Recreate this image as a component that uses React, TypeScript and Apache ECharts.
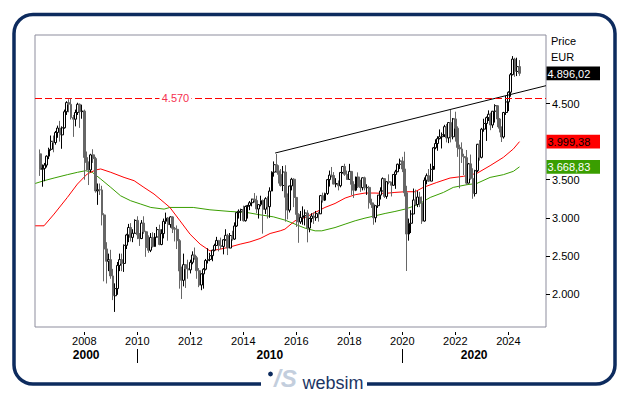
import React, { useEffect, useRef } from 'react';
import * as echarts from 'echarts';

// Monthly candles, first candle = May 2006
const START_YEAR = 2006;
const START_MONTH = 5;

const opens = [
  3839, 3637, 3648, 3692, 3809, 3899, 4004, 3988,
  4120, 4178, 4088, 4181, 4392, 4512, 4489, 4316, 4294, 4382, 4490, 4394,
  4400, 3792, 3725, 3628, 3826, 3777, 3353, 3367, 3366, 3038, 2592, 2430,
  2451, 2237, 1977, 2071, 2375, 2451, 2401, 2639, 2775, 2873, 2743, 2797,
  2966, 2776, 2728, 2931, 2817, 2610, 2574, 2742, 2623, 2748, 2845, 2650,
  2793, 2954, 2996, 2911, 3012, 2862, 2849, 2700, 2302, 2180, 2385, 2330,
  2317, 2416, 2512, 2477, 2306, 2118, 2264, 2325, 2440, 2454, 2503, 2575,
  2636, 2703, 2633, 2624, 2712, 2770, 2603, 2768, 2721, 2893, 3068, 3086,
  3109, 2962, 3149, 3162, 3198, 3245, 3228, 3116, 3173, 3226, 3113, 3251,
  3146, 3351, 3599, 3697, 3616, 3570, 3424, 3601, 3270, 3101, 3418, 3506,
  3268, 3045, 2946, 3005, 3028, 3063, 2865, 2991, 3023, 3002, 3055, 3052,
  3291, 3231, 3319, 3501, 3560, 3555, 3442, 3450, 3421, 3595, 3674, 3570,
  3504, 3609, 3439, 3362, 3536, 3407, 3396, 3525, 3393, 3399, 3198, 3173,
  3001, 3159, 3298, 3352, 3514, 3280, 3474, 3467, 3427, 3569, 3604, 3703,
  3745, 3641, 3329, 2787, 2928, 3050, 3234, 3174, 3273, 3194, 2958, 3493,
  3553, 3481, 3636, 3919, 3975, 4039, 4064, 4089, 4196, 4048, 4250, 4063,
  4298, 4175, 3924, 3903, 3803, 3789, 3455, 3708, 3517, 3318, 3618, 3965,
  3794, 4163, 4238, 4315, 4359, 4218, 4399, 4471, 4297, 4175, 4061, 4382,
  4521, 4648, 4878, 5083, 4921, 4984,
];

const closes = [
  3637, 3648, 3692, 3809, 3899, 4004, 3988, 4120,
  4178, 4088, 4181, 4392, 4512, 4489, 4316, 4294, 4382, 4490, 4394, 4400,
  3792, 3725, 3628, 3826, 3777, 3353, 3367, 3366, 3038, 2592, 2430, 2451,
  2237, 1977, 2071, 2375, 2451, 2401, 2639, 2775, 2873, 2743, 2797, 2966,
  2776, 2728, 2931, 2817, 2610, 2574, 2742, 2623, 2748, 2845, 2650, 2793,
  2954, 2996, 2911, 3012, 2862, 2849, 2700, 2302, 2180, 2385, 2330, 2317,
  2416, 2512, 2477, 2306, 2118, 2264, 2325, 2440, 2454, 2503, 2575, 2636,
  2703, 2633, 2624, 2712, 2770, 2603, 2768, 2721, 2893, 3068, 3086, 3109,
  2962, 3149, 3162, 3198, 3245, 3228, 3116, 3173, 3226, 3113, 3251, 3146,
  3351, 3599, 3697, 3616, 3570, 3424, 3601, 3270, 3101, 3418, 3506, 3268,
  3045, 2946, 3005, 3028, 3063, 2865, 2991, 3023, 3002, 3055, 3052, 3291,
  3231, 3319, 3501, 3560, 3555, 3442, 3450, 3421, 3595, 3674, 3570, 3504,
  3609, 3439, 3362, 3536, 3407, 3396, 3525, 3393, 3399, 3198, 3173, 3001,
  3159, 3298, 3352, 3514, 3280, 3474, 3467, 3427, 3569, 3604, 3703, 3745,
  3641, 3329, 2787, 2928, 3050, 3234, 3174, 3273, 3194, 2958, 3493, 3553,
  3481, 3636, 3919, 3975, 4039, 4064, 4089, 4196, 4048, 4250, 4063, 4298,
  4175, 3924, 3903, 3803, 3789, 3455, 3708, 3517, 3318, 3618, 3965, 3794,
  4163, 4238, 4315, 4359, 4218, 4399, 4471, 4297, 4175, 4061, 4382, 4521,
  4648, 4878, 5083, 4921, 4984, 4896,
];

const highs = [
  3897, 3700, 3720, 3820, 3920, 4080, 4080, 4140,
  4210, 4272, 4200, 4420, 4530, 4556, 4572, 4350, 4420, 4510, 4500, 4485,
  4420, 3870, 3740, 3840, 3900, 3800, 3450, 3450, 3420, 3060, 2680, 2530,
  2580, 2330, 2140, 2420, 2530, 2530, 2650, 2790, 2920, 2930, 2850, 2980,
  3020, 2800, 2970, 3020, 2830, 2770, 2800, 2810, 2800, 2880, 2910, 2850,
  2990, 3068, 3010, 3020, 3020, 2880, 2900, 2720, 2360, 2530, 2390, 2450,
  2450, 2560, 2610, 2500, 2340, 2270, 2340, 2460, 2600, 2540, 2580, 2660,
  2750, 2710, 2740, 2720, 2850, 2790, 2800, 2830, 2940, 3070, 3110, 3120,
  3160, 3160, 3170, 3220, 3250, 3325, 3290, 3180, 3290, 3240, 3270, 3280,
  3400, 3610, 3740, 3836, 3690, 3640, 3680, 3690, 3320, 3420, 3525, 3520,
  3270, 3060, 3090, 3150, 3110, 3100, 3000, 3060, 3070, 3090, 3080, 3300,
  3330, 3330, 3510, 3620, 3667, 3600, 3520, 3490, 3600, 3680, 3709, 3620,
  3708, 3610, 3480, 3540, 3596, 3500, 3530, 3540, 3440, 3420, 3250, 3200,
  3160, 3300, 3400, 3530, 3520, 3475, 3570, 3470, 3570, 3630, 3711, 3777,
  3800, 3867, 3420, 2990, 3100, 3384, 3370, 3350, 3340, 3280, 3530, 3582,
  3640, 3710, 3930, 4030, 4070, 4160, 4120, 4220, 4230, 4250, 4415, 4310,
  4392, 4200, 3960, 3990, 3840, 3890, 3720, 3830, 3650, 3630, 3970, 4020,
  4180, 4300, 4330, 4410, 4380, 4400, 4490, 4480, 4310, 4200, 4390, 4600,
  4660, 4900, 5122, 5100, 5101, 5070,
];

const lows = [
  3550, 3408, 3480, 3660, 3770, 3880, 3860, 3960,
  4050, 4000, 3906, 4170, 4350, 4385, 4290, 4062, 4200, 4350, 4180, 4300,
  3500, 3620, 3430, 3600, 3720, 3330, 3170, 3300, 2900, 2166, 2138, 2300,
  2200, 1920, 1765, 1990, 2300, 2300, 2290, 2590, 2680, 2690, 2680, 2790,
  2720, 2631, 2720, 2790, 2488, 2540, 2550, 2610, 2620, 2740, 2640, 2640,
  2730, 2920, 2700, 2870, 2800, 2690, 2590, 2070, 1935, 2100, 2080, 2200,
  2270, 2390, 2450, 2200, 2090, 2050, 2070, 2310, 2400, 2430, 2430, 2560,
  2630, 2560, 2590, 2520, 2700, 2511, 2600, 2700, 2710, 2880, 2990, 2960,
  2950, 2950, 2990, 3100, 3150, 3200, 3060, 2990, 3150, 2792, 3050, 2990,
  3000, 3350, 3540, 3590, 3450, 3410, 3350, 2950, 2980, 3070, 3360, 3140,
  2880, 2672, 2920, 2910, 2900, 2678, 2810, 2940, 2920, 2960, 2950, 3050,
  3200, 3220, 3300, 3410, 3530, 3440, 3400, 3360, 3400, 3580, 3550, 3500,
  3500, 3300, 3261, 3350, 3390, 3340, 3360, 3360, 3300, 3120, 3130, 2909,
  2940, 3130, 3240, 3350, 3260, 3250, 3440, 3280, 3420, 3380, 3600, 3640,
  3600, 3280, 2302, 2700, 2800, 3050, 3160, 3140, 3140, 2920, 2950, 3440,
  3470, 3480, 3680, 3900, 3880, 4030, 3910, 4060, 3990, 3980, 3990, 4030,
  4000, 3800, 3387, 3720, 3560, 3430, 3450, 3500, 3250, 3279, 3600, 3750,
  3780, 4130, 4009, 4270, 4150, 4180, 4250, 4190, 4120, 3995, 4040, 4350,
  4400, 4590, 4870, 4850, 4860, 4863,
];

// Moving averages: [decimal year, value]
const redMA: [number, number][] = [
  [2006.15, 2895], [2006.48, 2895], [2006.86, 3049], [2007.36, 3267], [2007.74, 3443],
  [2008.11, 3575], [2008.43, 3628], [2008.62, 3641], [2009.0, 3597], [2009.5, 3530],
  [2009.88, 3487], [2010.25, 3399], [2010.63, 3312], [2011.01, 3201], [2011.23, 3136],
  [2011.61, 2961], [2011.99, 2785], [2012.37, 2654], [2012.74, 2566], [2013.12, 2588],
  [2013.5, 2618], [2013.88, 2654], [2014.25, 2684], [2014.63, 2728], [2015.01, 2794],
  [2015.39, 2829], [2015.57, 2851], [2015.95, 2961], [2016.33, 3004], [2016.71, 3070],
  [2017.08, 3136], [2017.46, 3188], [2017.84, 3259], [2018.22, 3303], [2018.59, 3325],
  [2018.97, 3325], [2019.35, 3320], [2019.72, 3333], [2020.1, 3342], [2020.48, 3342],
  [2020.79, 3399], [2021.3, 3464], [2021.8, 3522], [2022.3, 3544], [2022.81, 3583],
  [2023.31, 3684], [2023.81, 3793], [2024.19, 3904], [2024.42, 3999.38],
];

const greenMA: [number, number][] = [
  [2006.15, 3451], [2006.48, 3487], [2006.86, 3522], [2007.36, 3566], [2007.74, 3597],
  [2008.05, 3618], [2008.3, 3597], [2008.62, 3509], [2009.0, 3399], [2009.37, 3289],
  [2009.75, 3224], [2010.13, 3180], [2010.51, 3136], [2011.01, 3114], [2011.23, 3136],
  [2012.11, 3136], [2012.74, 3105], [2013.5, 3083], [2014.13, 3070], [2014.63, 3039],
  [2015.13, 3013], [2015.57, 2970], [2015.95, 2917], [2016.33, 2864], [2016.71, 2829],
  [2016.96, 2829], [2017.46, 2872], [2017.84, 2917], [2018.22, 2961], [2018.59, 2996],
  [2018.97, 3026], [2019.35, 3057], [2019.72, 3083], [2020.1, 3114], [2020.48, 3158],
  [2020.67, 3190], [2021.05, 3267], [2021.55, 3333], [2021.92, 3399], [2022.43, 3434],
  [2022.81, 3451], [2023.31, 3530], [2023.81, 3566], [2024.19, 3610], [2024.42, 3668.83],
];

const trendLine: [number, number][] = [[2015.2, 3850], [2025.42, 4734]];
const resistance = 4570;
const resistanceLabel = '4.570';

const xTickYears = [2008, 2010, 2012, 2014, 2016, 2018, 2020, 2022, 2024];
const decadeBreaks = [2010, 2020];
const decadeNames = ['2000', '2010', '2020'];
const yTickValues = [2000, 2500, 3000, 3500, 4500];

const lastPrice = 4896.02;
const lastRed = 3999.38;
const lastGreen = 3668.83;

const X_MIN = 2006.14;
const X_MAX = 2025.42;
const Y_MIN = 1567;
const Y_MAX = 5399;

const FONT = '"Liberation Sans", Arial, sans-serif';
const NAVY = '#0d2b5e';

function thousands(v: number): string {
  const i = Math.floor(v);
  const s = String(i);
  return s.length > 3 ? s.slice(0, s.length - 3) + '.' + s.slice(s.length - 3) : s;
}
function euro(v: number): string {
  const i = Math.floor(v);
  const d = Math.round((v - i) * 100);
  return thousands(i) + ',' + String(d).padStart(2, '0');
}

export default function App() {
  const ref = useRef<HTMLDivElement>(null);
  useEffect(() => {
    if (!ref.current) return;
    const chart = echarts.init(ref.current, undefined, { renderer: 'svg' });
    const candles = closes.map((c, i) => {
      const x = START_YEAR + (START_MONTH - 1 + i) / 12;
      return [x, opens[i], c, lows[i], highs[i]];
    });
    const decadePos = [
      (X_MIN + decadeBreaks[0]) / 2,
      (decadeBreaks[0] + decadeBreaks[1]) / 2,
      (decadeBreaks[1] + X_MAX) / 2,
    ];
    const option: any = {
      animation: false,
      backgroundColor: '#ffffff',
      grid: {
        left: 35, right: 83, top: 35, bottom: 69,
        show: true, borderColor: '#8d8d9d', borderWidth: 1, backgroundColor: 'transparent',
      },
      xAxis: [
        {
          type: 'value', min: X_MIN, max: X_MAX, position: 'bottom', offset: 5,
          splitLine: { show: false }, axisLine: { show: false },
          axisTick: { show: true, customValues: xTickYears, length: 3, lineStyle: { color: '#000', width: 1 } },
          axisLabel: {
            customValues: xTickYears, formatter: (v: number) => String(Math.round(v)),
            color: '#000', fontSize: 11, fontFamily: FONT, margin: 3,
          },
        },
        {
          type: 'value', min: X_MIN, max: X_MAX, position: 'bottom', offset: 22,
          splitLine: { show: false }, axisLine: { show: false },
          axisTick: { show: true, customValues: decadeBreaks, length: 14, lineStyle: { color: '#000', width: 1 } },
          axisLabel: {
            customValues: decadePos,
            formatter: (v: number) => (v < decadeBreaks[0] ? decadeNames[0] : v < decadeBreaks[1] ? decadeNames[1] : decadeNames[2]),
            color: '#000', fontSize: 12, fontWeight: 'bold', fontFamily: FONT, margin: 0,
          },
        },
      ],
      yAxis: {
        type: 'value', position: 'right', min: Y_MIN, max: Y_MAX, scale: true,
        splitLine: { show: false }, axisLine: { show: false },
        axisTick: { show: true, customValues: yTickValues, length: 4, lineStyle: { color: '#000' } },
        axisLabel: {
          customValues: yTickValues, formatter: (v: number) => thousands(v),
          color: '#000', fontSize: 11, fontFamily: FONT, margin: 6,
        },
      },
      series: [
        {
          type: 'line', data: greenMA, symbol: 'none', z: 1,
          lineStyle: { color: '#3a9e00', width: 1 }, silent: true,
        },
        {
          type: 'line', data: redMA, symbol: 'none', z: 1,
          lineStyle: { color: '#ff0000', width: 1 }, silent: true,
        },
        {
          type: 'candlestick', data: candles, z: 2, barWidth: 2.4,
          encode: { x: 0, y: [1, 2, 3, 4] },
          itemStyle: {
            color: '#ffffff', color0: '#666666',
            borderColor: '#000000', borderColor0: '#666666', borderWidth: 1,
          },
          silent: true,
        },
        {
          type: 'line', data: trendLine, symbol: 'none', z: 3,
          lineStyle: { color: '#000000', width: 1 }, silent: true,
          markLine: {
            silent: true, symbol: 'none', label: { show: false },
            lineStyle: { color: '#ff0000', type: [7, 3], width: 1 },
            data: [{ yAxis: resistance }],
          },
          markPoint: {
            silent: true,
            symbol: 'rect', symbolSize: [32, 11],
            itemStyle: { color: '#ffffff' },
            label: {
              show: true, position: 'inside', formatter: resistanceLabel,
              color: '#f5304f', fontSize: 11, fontFamily: FONT,
            },
            data: [{ coord: [2011.44, resistance], value: resistance }],
          },
        },
      ],
    };
    chart.setOption(option);

    const yPix = (v: number) => chart.convertToPixel({ yAxisIndex: 0 }, v) as number;
    const tag = (v: number, bg: string, fg: string) => {
      const y = yPix(v);
      return [
        { type: 'rect', z: 50, shape: { x: 546.5, y: y - 6.8, width: 53.5, height: 13.6 }, style: { fill: bg } },
        {
          type: 'text', z: 51, x: 547.5, y: y + 0.5,
          style: { text: euro(v), fill: fg, fontSize: 11, fontFamily: FONT, align: 'left', verticalAlign: 'middle' },
        },
      ];
    };
    chart.setOption({
      graphic: [
        {
          type: 'rect', z: 40,
          shape: { x: 14, y: 14.5, width: 601, height: 369.5, r: 19 },
          style: { fill: 'none', stroke: NAVY, lineWidth: 3.5 },
        },
        { type: 'rect', z: 41, shape: { x: 261, y: 378, width: 106, height: 12 }, style: { fill: '#ffffff' } },
        { type: 'circle', z: 42, shape: { cx: 270.5, cy: 374, r: 2.4 }, style: { fill: NAVY } },
        {
          type: 'text', z: 42, x: 274, y: 378,
          style: { text: '/S', fill: '#c3cedd', fontSize: 24, fontStyle: 'italic', fontWeight: 'bold', fontFamily: FONT, align: 'left', verticalAlign: 'middle' },
        },
        {
          type: 'text', z: 42, x: 302.5, y: 383,
          style: { text: 'websim', fill: '#1b3564', fontSize: 18, fontFamily: FONT, align: 'left', verticalAlign: 'middle' },
        },
        {
          type: 'text', z: 42, x: 551, y: 41,
          style: { text: 'Price', fill: '#000', fontSize: 11, fontFamily: FONT, align: 'left', verticalAlign: 'middle' },
        },
        {
          type: 'text', z: 42, x: 551, y: 57,
          style: { text: 'EUR', fill: '#000', fontSize: 11, fontFamily: FONT, align: 'left', verticalAlign: 'middle' },
        },
        ...tag(lastPrice, '#000000', '#ffffff'),
        ...tag(lastRed, '#ff0000', '#000000'),
        ...tag(lastGreen, '#3a9e00', '#ffffff'),
      ],
    });
    return () => chart.dispose();
  }, []);
  return (
    <div
      ref={ref}
      style={{ position: 'fixed', left: 0, top: 0, width: 629, height: 396, background: '#ffffff' }}
    />
  );
}
